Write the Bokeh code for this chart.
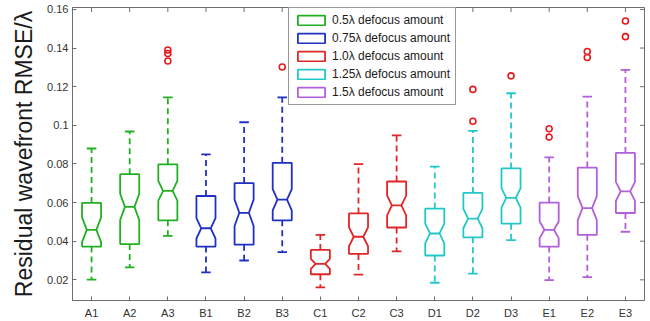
import numpy as np
from bokeh.plotting import figure
from bokeh.models import FixedTicker, Range1d, Legend, LegendItem
from bokeh.embed import file_html
from bokeh.resources import INLINE

# ---------------- data ----------------
categories = ["A1", "A2", "A3", "B1", "B2", "B3", "C1", "C2", "C3",
              "D1", "D2", "D3", "E1", "E2", "E3"]
group_names = ["0.5λ defocus amount", "0.75λ defocus amount", "1.0λ defocus amount",
               "1.25λ defocus amount", "1.5λ defocus amount"]
group_colors = ["#22b022", "#2030c4", "#e02626", "#22c8c8", "#b25fdc"]

whisker_lo = [0.0201, 0.0265, 0.0428, 0.0239, 0.0300, 0.0343, 0.0161, 0.0227, 0.0347,
              0.0185, 0.0232, 0.0406, 0.0198, 0.0214, 0.0449]
q1 = [0.0372, 0.0385, 0.0508, 0.0372, 0.0382, 0.0508, 0.0229, 0.0334, 0.0471,
      0.0326, 0.0420, 0.0491, 0.0372, 0.0433, 0.0546]
median = [0.0459, 0.0578, 0.0661, 0.0467, 0.0547, 0.0615, 0.0283, 0.0423, 0.0585,
          0.0440, 0.0517, 0.0624, 0.0459, 0.0571, 0.0658]
q3 = [0.0598, 0.0747, 0.0798, 0.0634, 0.0701, 0.0806, 0.0355, 0.0544, 0.0709,
      0.0569, 0.0650, 0.0777, 0.0600, 0.0781, 0.0857]
whisker_hi = [0.0880, 0.0968, 0.1145, 0.0850, 0.1016, 0.1145, 0.0433, 0.0799, 0.0948,
              0.0786, 0.0971, 0.1166, 0.0834, 0.1149, 0.1287]
notch_half = [0.0064, 0.0068, 0.0051, 0.0053, 0.0068, 0.0055, 0.0026, 0.0049, 0.0051,
              0.0051, 0.0050, 0.0050, 0.0043, 0.0062, 0.0049]

outlier_cat = ["A3", "A3", "A3", "B3", "D2", "D2", "D3", "E1", "E1", "E2", "E2", "E3", "E3"]
outlier_val = [0.1390, 0.1372, 0.1333, 0.1302, 0.1186, 0.1021, 0.1256, 0.0982, 0.0939,
               0.1382, 0.1351, 0.1540, 0.1459]

yticks = [0.02, 0.04, 0.06, 0.08, 0.10, 0.12, 0.14, 0.16]
ytick_labels = ["0.02", "0.04", "0.06", "0.08", "0.1", "0.12", "0.14", "0.16"]

XMIN, XMAX = 0.5, 15.5
YMIN, YMAX = 0.0093, 0.161

# ---------------- geometry derived from data ----------------
HALF = 0.25      # half box width
NOTCH = 0.125    # half width at the median
CAP = 0.125      # half width of whisker caps

xpos = list(range(1, len(categories) + 1))
group_of = [i // 3 for i in range(len(categories))]

FONT = "Liberation Sans"
AXIS_COLOR = "#6e6e6e"

p = figure(width=650, height=321,
           x_range=Range1d(XMIN, XMAX), y_range=Range1d(YMIN, YMAX),
           output_backend="svg", toolbar_location=None,
           min_border_left=72, min_border_right=6, min_border_top=7, min_border_bottom=17)
p.background_fill_color = "white"
p.border_fill_color = "white"
p.outline_line_color = AXIS_COLOR
p.outline_line_width = 1
p.xgrid.visible = False
p.ygrid.visible = False

legend_items = []
for g in range(len(group_names)):
    idx = [i for i in range(len(categories)) if group_of[i] == g]
    col = group_colors[g]
    xs, ys = [], []
    for i in idx:
        x = xpos[i]
        nlo = median[i] - notch_half[i]
        nhi = median[i] + notch_half[i]
        xs.append([x - HALF, x - HALF, x - NOTCH, x - HALF, x - HALF,
                   x + HALF, x + HALF, x + NOTCH, x + HALF, x + HALF])
        ys.append([q1[i], nlo, median[i], nhi, q3[i],
                   q3[i], nhi, median[i], nlo, q1[i]])
    box = p.patches(xs, ys, fill_alpha=0, line_color=col, line_width=1.8)

    # median lines
    p.segment(x0=[xpos[i] - NOTCH for i in idx], x1=[xpos[i] + NOTCH for i in idx],
              y0=[median[i] for i in idx], y1=[median[i] for i in idx],
              line_color=col, line_width=1.8)
    # whiskers (dashed)
    p.segment(x0=[xpos[i] for i in idx], x1=[xpos[i] for i in idx],
              y0=[q3[i] for i in idx], y1=[whisker_hi[i] for i in idx],
              line_color=col, line_width=1.8, line_dash="6 4")
    p.segment(x0=[xpos[i] for i in idx], x1=[xpos[i] for i in idx],
              y0=[q1[i] for i in idx], y1=[whisker_lo[i] for i in idx],
              line_color=col, line_width=1.8, line_dash="6 4")
    # caps
    p.segment(x0=[xpos[i] - CAP for i in idx], x1=[xpos[i] + CAP for i in idx],
              y0=[whisker_hi[i] for i in idx], y1=[whisker_hi[i] for i in idx],
              line_color=col, line_width=1.8)
    p.segment(x0=[xpos[i] - CAP for i in idx], x1=[xpos[i] + CAP for i in idx],
              y0=[whisker_lo[i] for i in idx], y1=[whisker_lo[i] for i in idx],
              line_color=col, line_width=1.8)
    legend_items.append(LegendItem(label=group_names[g], renderers=[box]))

# outliers
ox = [xpos[categories.index(c)] for c in outlier_cat]
p.scatter(ox, outlier_val, marker="circle", size=6, fill_color=None,
          line_color="#e8191b", line_width=1.6)

# box-style tick marks on the top and right edges (mirroring the axis ticks)
p.scatter(xpos, [YMAX] * len(xpos), marker="dash", angle=np.pi / 2, size=9,
          line_color=AXIS_COLOR, line_width=1)
p.scatter([XMAX] * len(yticks), yticks, marker="dash", size=9,
          line_color=AXIS_COLOR, line_width=1)

# ---------------- axes ----------------
p.xaxis.ticker = FixedTicker(ticks=xpos)
p.xaxis.major_label_overrides = {x: c for x, c in zip(xpos, categories)}
p.yaxis.ticker = FixedTicker(ticks=yticks)
p.yaxis.major_label_overrides = {t: l for t, l in zip(yticks, ytick_labels)}

for ax in [p.xaxis[0], p.yaxis[0]]:
    ax.axis_line_color = AXIS_COLOR
    ax.major_tick_line_color = AXIS_COLOR
    ax.major_tick_in = 4
    ax.major_tick_out = 0
    ax.minor_tick_line_color = None
    ax.major_label_text_font = FONT
    ax.major_label_text_font_size = "11px"
    ax.major_label_text_color = "#333333"
p.xaxis.major_label_standoff = 6
p.yaxis.major_label_standoff = 4

p.yaxis.axis_label = "Residual wavefront RMSE/λ"
p.yaxis.axis_label_text_font = FONT
p.yaxis.axis_label_text_font_size = "23px"
p.yaxis.axis_label_text_font_style = "normal"
p.yaxis.axis_label_text_color = "#1a1a1a"
p.yaxis.axis_label_standoff = 7

# ---------------- legend ----------------
legend = Legend(items=legend_items, location=(216, 195))
legend.label_text_font = FONT
legend.label_text_font_size = "12px"
legend.label_text_color = "#1a1a1a"
legend.label_height = 14
legend.glyph_width = 34
legend.glyph_height = 12
legend.spacing = 4
legend.padding = 5
legend.margin = 0
legend.label_standoff = 4
legend.border_line_color = "#333333"
legend.border_line_width = 1
legend.background_fill_color = "white"
legend.background_fill_alpha = 1
p.add_layout(legend, "center")

open("out.html", "w").write(file_html(p, INLINE))
